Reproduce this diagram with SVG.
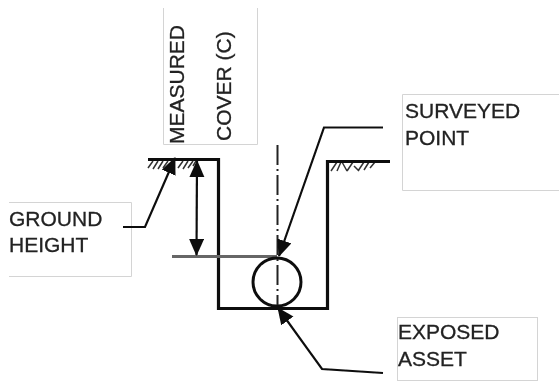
<svg xmlns="http://www.w3.org/2000/svg" width="559" height="381" viewBox="0 0 559 381">
<style>
.box{fill:#fff;stroke:#d4d4d4;stroke-width:1}
.lbl{font-family:"Liberation Sans",Arial,sans-serif;font-size:21px;fill:#222;stroke:#222;stroke-width:0.3}
.ln{fill:none;stroke:#111;stroke-width:2.200}
.thick{fill:none;stroke:#111;stroke-width:3.200}
.hatch{fill:none;stroke:#333;stroke-width:1.500}
</style>
<defs>
<marker id="ah" markerUnits="userSpaceOnUse" markerWidth="18" markerHeight="16" refX="16" refY="7.500" orient="auto-start-reverse"><path d="M0,0L17,7.500L0,15Z" fill="#111"/></marker>
<filter id="soft" x="0" y="0" width="100%" height="100%"><feGaussianBlur stdDeviation="0.500"/></filter>
</defs>
<rect width="559" height="381" fill="#fff"/>
<g filter="url(#soft)">
<g id="node-measured">
<path class="box" d="M163.500,8V144.500H257.500V8"/>
<text class="lbl" transform="translate(184,144) rotate(-90)">MEASURED</text>
<text class="lbl" transform="translate(231,141) rotate(-90)">COVER (C)</text>
</g>
<g id="node-ground">
<path class="box" d="M9,202.500H131.500V276.500H9"/>
<text class="lbl" x="9" y="226">GROUND</text>
<text class="lbl" x="9" y="252">HEIGHT</text>
</g>
<g id="node-surveyed">
<path class="box" d="M559,94.500H402.500V190.500H559"/>
<text class="lbl" x="405" y="118">SURVEYED</text>
<text class="lbl" x="405" y="145">POINT</text>
</g>
<g id="node-exposed">
<rect class="box" x="397.500" y="317.500" width="140" height="63"/>
<text class="lbl" x="398" y="339">EXPOSED</text>
<text class="lbl" x="398" y="366">ASSET</text>
</g>
<g id="node-trench">
<path class="hatch" d="M148,168l5,-7M153,169l5,-8M158,169l5,-8M163,168l5,-7M178,168l5,-7M183,169l5,-8M188,168l5,-7M193,166l3,-5M331,171l6,-9M337,171l4,-9M342,162l5,9M347,171l6,-9M354,166l5,5M358,171l6,-9M364,170l5,-8M370,168l5,-6"/>
<path class="thick" d="M148,159.500H218.500V308.500H327.500V161.500H390"/>
<line x1="172" y1="256.500" x2="277" y2="256.500" stroke="#666" stroke-width="3"/>
<circle cx="277" cy="282" r="24" fill="none" stroke="#111" stroke-width="3"/>
<line x1="277.500" y1="145" x2="277.500" y2="305" stroke="#222" stroke-width="2" stroke-dasharray="20 4 2 4"/>
</g>
<g id="connectors">
<line class="ln" x1="197" y1="161" x2="196.500" y2="255" marker-start="url(#ah)" marker-end="url(#ah)"/>
<path class="ln" d="M383,127.500H324L279,256" marker-end="url(#ah)"/>
<path class="ln" d="M123,227H145L175,158" marker-end="url(#ah)"/>
<path class="ln" d="M383,373L322,369L278,308" marker-end="url(#ah)"/>
</g>
</g>
</svg>
